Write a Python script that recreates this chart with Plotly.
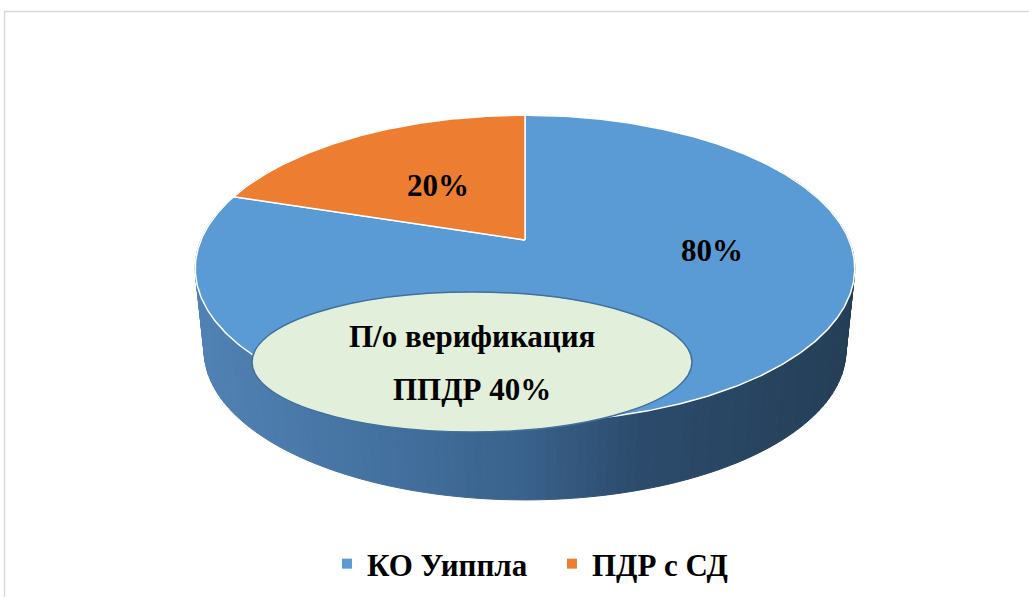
import numpy as np
import plotly.graph_objects as go

# ---- data -------------------------------------------------------------
categories = ["КО Уиппла", "ПДР с СД"]
values = [80, 20]
slice_colors = ["#5B9BD5", "#ED7D31"]
note_lines = ["П/о верификация", "ППДР 40%"]

# ---- canvas / pie geometry (pixel-like axis units) --------------------
W, H = 1029, 597
CX, CY = 525.0, 240.0            # apex of the pie on the top face
RX, RY, PERSP = 324.0, 148.0, 0.186
BOTTOM_SCALE, DEPTH = 0.973, 83.0
FONT = "Liberation Serif, Times New Roman, serif"

# label placement on the top face: (angle clockwise from 12 o'clock, radius)
label_pos = [(97.0, 0.575), (324.0, 0.49)]

# shading of the cylinder wall, by screen x
side_stops_x = [190, 400, 525, 640, 860]
side_stops_c = ["#5182B5", "#426F9D", "#39618B", "#2C4B6C", "#243E56"]


def rim(theta_deg, r=1.0, bottom=False):
    t = np.radians(np.asarray(theta_deg, dtype=float))
    X = r * np.sin(t)
    Y = r * np.cos(t)
    w = 1.0 / (1.0 + PERSP * Y)
    s = BOTTOM_SCALE if bottom else 1.0
    x = CX + RX * s * X * w
    y = CY - RY * s * Y * w + (DEPTH if bottom else 0.0)
    return x, y


def hex_to_rgb(h):
    h = h.lstrip("#")
    return [int(h[i:i + 2], 16) for i in (0, 2, 4)]


def side_color(x):
    rgbs = np.array([hex_to_rgb(c) for c in side_stops_c], dtype=float)
    rgb = [np.interp(x, side_stops_x, rgbs[:, k]) for k in range(3)]
    return "rgb({:.0f},{:.0f},{:.0f})".format(*rgb)


fig = go.Figure()

# cylinder wall, drawn as thin shaded strips
edges = np.arange(60.0, 300.1, 1.5)
for a0, a1 in zip(edges[:-1], edges[1:]):
    tx, ty = rim([a0, a1])
    bx, by = rim([a1, a0], bottom=True)
    col = side_color(0.5 * (tx[0] + tx[1]))
    fig.add_trace(go.Scatter(
        x=list(tx) + list(bx) + [tx[0]], y=list(ty) + list(by) + [ty[0]],
        mode="lines", fill="toself", fillcolor=col,
        line=dict(color=col, width=1), hoverinfo="skip", showlegend=False))

# top face slices, clockwise from 12 o'clock
total = float(sum(values))
cum = 0.0
for name, v, c in zip(categories, values, slice_colors):
    a0 = 360.0 * cum / total
    a1 = 360.0 * (cum + v) / total
    th = np.linspace(a0, a1, max(int((a1 - a0) * 2), 8))
    xs, ys = rim(th)
    fig.add_trace(go.Scatter(
        x=[CX] + list(xs) + [CX], y=[CY] + list(ys) + [CY],
        mode="lines", fill="toself", fillcolor=c,
        line=dict(color="white", width=1.5), hoverinfo="skip",
        showlegend=False, name=name))
    cum += v

# percentage labels on the slices
for v, (ang, rr) in zip(values, label_pos):
    lx, ly = rim(ang, rr)
    fig.add_annotation(x=float(lx), y=float(ly), text=f"{v / total * 100:.0f}%",
                       showarrow=False, xanchor="center", yanchor="middle",
                       font=dict(family=FONT, size=31, color="black", weight="bold"))

# legend entries
for name, c in zip(categories, slice_colors):
    fig.add_trace(go.Scatter(
        x=[None], y=[None], mode="markers", name=name,
        marker=dict(symbol="square", size=10, color=c)))

# callout ellipse with its note
fig.add_shape(type="circle", xref="x", yref="y", x0=252, x1=692, y0=292, y1=432,
              fillcolor="#E2EFDA", line=dict(color="#41719C", width=1.5))
for txt, yy in zip(note_lines, [336, 389]):
    fig.add_annotation(x=472, y=yy, text=txt, showarrow=False,
                       xanchor="center", yanchor="middle",
                       font=dict(family=FONT, size=31, color="black", weight="bold"))

# chart-area frame
fig.add_shape(type="rect", xref="x", yref="y", x0=4.5, x1=1045, y0=11.5, y1=620,
              line=dict(color="#D9D9D9", width=1.5), fillcolor="rgba(0,0,0,0)",
              layer="below")

fig.update_layout(
    width=W, height=H,
    margin=dict(l=0, r=0, t=0, b=0),
    paper_bgcolor="white", plot_bgcolor="white",
    xaxis=dict(range=[0, W], visible=False, fixedrange=True),
    yaxis=dict(range=[H, 0], visible=False, fixedrange=True),
    showlegend=True,
    legend=dict(orientation="h", x=0.5364, xanchor="center",
                y=1 - 564 / H, yanchor="middle",
                entrywidth=180, entrywidthmode="pixels",
                font=dict(family=FONT, size=31, color="black", weight="bold"),
                bgcolor="rgba(0,0,0,0)", itemclick=False, itemdoubleclick=False),
)

fig.write_html("out.html")
